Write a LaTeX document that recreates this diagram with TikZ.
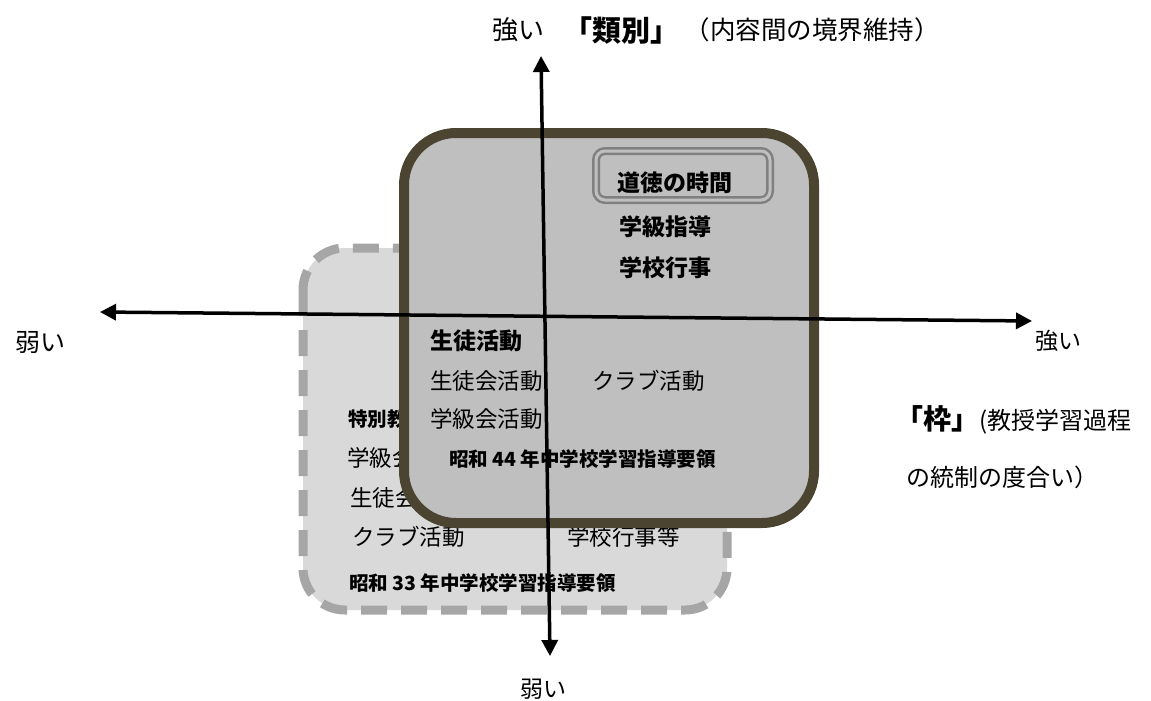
\documentclass[tikz,border=0pt]{standalone}
\usepackage{fontspec}
\setmainfont{Noto Sans CJK JP}
\usetikzlibrary{arrows.meta}
\definecolor{darkfill}{HTML}{BFBFBF}
\definecolor{darkline}{HTML}{4A4430}
\definecolor{lightfill}{HTML}{D9D9D9}
\definecolor{dashline}{HTML}{A6A6A6}
\definecolor{dbl}{HTML}{808080}
\tikzset{
  lbl/.style={inner sep=0pt, font=\fontsize{22.5}{26}\selectfont},
  blbl/.style={inner sep=0pt, font=\fontsize{23}{26}\selectfont\bfseries},
  slbl/.style={inner sep=0pt, font=\fontsize{19.5}{22}\selectfont\bfseries},
  axlbl/.style={inner sep=0pt, font=\fontsize{24}{27}\selectfont},
  axis2/.style={line width=3.5pt, {Triangle[length=16pt,width=16pt]}-{Triangle[length=16pt,width=16pt]}},
}
\begin{document}
\begin{tikzpicture}[x=1pt,y=-1pt]
\useasboundingbox (0,0) rectangle (1151,701);
% dashed box (昭和33年)
\draw[fill=lightfill, draw=dashline, line width=9pt, dash pattern=on 26pt off 14pt, rounded corners=42pt] (303,248) rectangle (727,610);
\node[slbl, anchor=west] (t33a) at (348,419) {特別教育活動};
\node[lbl, anchor=west] (t33b) at (347,458) {学級会活動};
\node[lbl, anchor=west] (t33c) at (350,498) {生徒会活動};
\node[lbl, anchor=west] (t33d) at (352,537) {クラブ活動};
\node[lbl, anchor=west] (t33e) at (567,537) {学校行事等};
\node[slbl, anchor=west] (t33f) at (349,583) {昭和 33 年中学校学習指導要領};
% dark box (昭和44年)
\draw[fill=darkfill, draw=darkline, line width=10pt, rounded corners=52pt] (404,133) rectangle (814,523);
\draw[draw=dbl, double=darkfill, line width=2.5pt, double distance=3pt, rounded corners=9pt] (596,151) rectangle (770,200);
\node[blbl, anchor=west] (moral) at (617,183) {道徳の時間};
\node[blbl, anchor=west] (gkshido) at (619,227) {学級指導};
\node[blbl, anchor=west] (gkgyoji) at (619,268) {学校行事};
\node[blbl, anchor=west] (seito) at (430,341) {生徒活動};
\node[lbl, anchor=west] (seitokai) at (430,381) {生徒会活動};
\node[lbl, anchor=west] (club) at (592,381) {クラブ活動};
\node[lbl, anchor=west] (gkkai) at (430,419) {学級会活動};
\node[slbl, anchor=west] (t44) at (449,459) {昭和 44 年中学校学習指導要領};
% axes
\coordinate (vtop) at (541,56);
\coordinate (vbot) at (550,656);
\coordinate (hleft) at (100,312);
\coordinate (hright) at (1032,321);
\draw[axis2] (vbot) -- (vtop);
\draw[axis2] (hleft) -- (hright);
% axis labels
\node[axlbl, font=\fontsize{26}{28}\selectfont, anchor=west] (topstrong) at (492,30) {強い};
\node[axlbl, font=\fontsize{29}{31}\selectfont\bfseries] (topclass) at (621,30) {「類別」};
\node[axlbl, font=\fontsize{25.5}{28}\selectfont] (topnote) at (812,30) {（内容間の境界維持）};
\node[axlbl, font=\fontsize{25}{28}\selectfont] (leftlbl) at (41,342) {弱い};
\node[axlbl, font=\fontsize{23}{26}\selectfont] (rightlbl) at (1058,341) {強い};
\node[axlbl, font=\fontsize{23}{26}\selectfont] (botlbl) at (543,689) {弱い};
\node[axlbl, anchor=west] (frame1) at (895,420) {\textbf{{\fontsize{28}{30}\selectfont 「枠」}}(教授学習過程};
\node[axlbl, anchor=west] (frame2) at (906,477) {の統制の度合い）};
\end{tikzpicture}
\end{document}
